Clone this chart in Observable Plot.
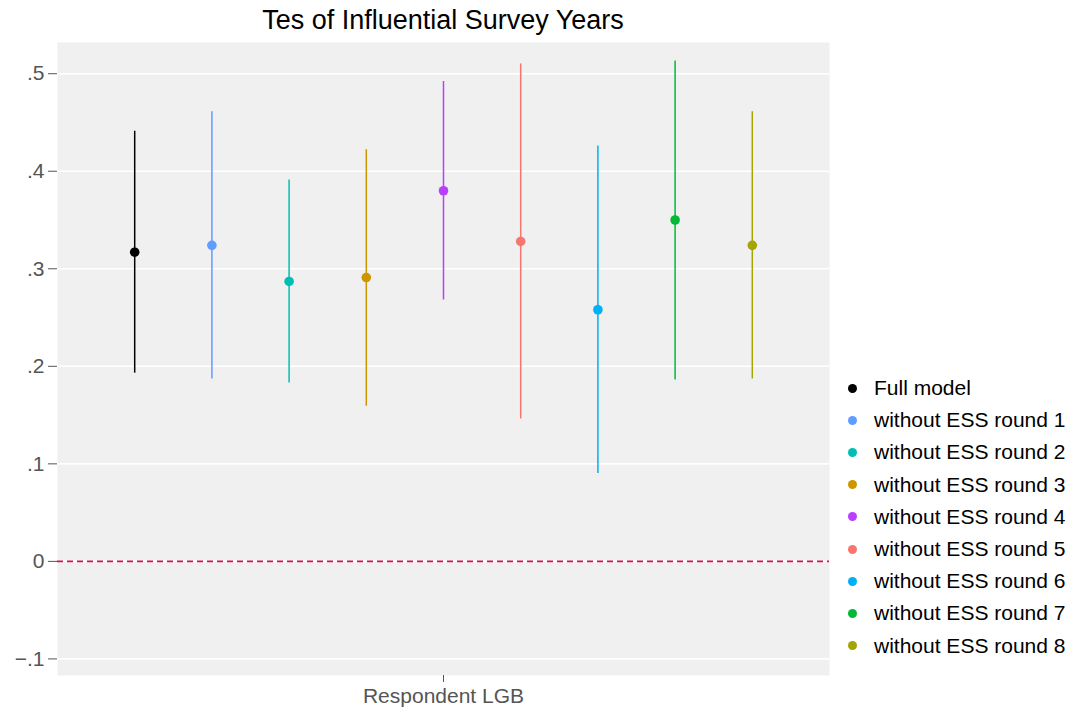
<!DOCTYPE html>
<html>
<head>
<meta charset="utf-8">
<script src="https://cdn.jsdelivr.net/npm/d3@7"></script>
<script src="https://cdn.jsdelivr.net/npm/@observablehq/plot@0.6"></script>
<style>
  html, body { margin: 0; padding: 0; background: #fff; }
  #wrap { position: relative; width: 1074px; height: 716px; font-family: "Liberation Sans", Arial, sans-serif; }
  #title { position: absolute; left: 57px; width: 772px; top: 3px; text-align: center; font-size: 27px; color: #000; line-height: 34px; }
  #legend { position: absolute; left: 848px; top: 372px; font-size: 21px; color: #000; }
  .row { height: 32.2px; display: flex; align-items: center; }
  .sw { width: 9px; height: 9px; border-radius: 50%; margin-right: 17px; }
</style>
</head>
<body>
<div id="wrap">
  <div id="title">Tes of Influential Survey Years</div>
  <div id="legend"></div>
</div>
<script>
const models = ["Full model", "without ESS round 1", "without ESS round 2", "without ESS round 3", "without ESS round 4", "without ESS round 5", "without ESS round 6", "without ESS round 7", "without ESS round 8"];
const estimates = [0.317, 0.324, 0.287, 0.291, 0.380, 0.328, 0.258, 0.350, 0.324];
const lower = [0.193, 0.187, 0.183, 0.159, 0.268, 0.146, 0.090, 0.186, 0.187];
const upper = [0.441, 0.461, 0.391, 0.422, 0.492, 0.510, 0.426, 0.513, 0.461];
const colors = ["#000000", "#619CFF", "#00BFB2", "#CD9600", "#B93FFF", "#F8766D", "#00B0F6", "#00BA38", "#A3A500"];
const offsets = [-4, -3, -2, -1, 0, 1, 2, 3, 4];
const yTicks = [-0.1, 0, 0.1, 0.2, 0.3, 0.4, 0.5];
const xLabel = "Respondent LGB";

const data = models.map((m, i) => ({model: m, est: estimates[i], lo: lower[i], hi: upper[i], x: offsets[i]}));
const fmt = d => d === 0 ? "0" : (d < 0 ? "\u2212" : "") + d3.format(".1f")(Math.abs(d)).replace(/^0/, "");

const chart = Plot.plot({
  width: 1074,
  height: 716,
  marginLeft: 57,
  marginRight: 245,
  marginTop: 42,
  marginBottom: 41,
  style: {fontFamily: "Liberation Sans, Arial, sans-serif", background: "transparent"},
  x: {domain: [-5, 5]},
  y: {domain: [-0.117, 0.532]},
  color: {domain: models, range: colors},
  marks: [
    Plot.frame({fill: "#f0f0f0", stroke: null}),
    Plot.ruleY(yTicks, {stroke: "#ffffff", strokeWidth: 1.6}),
    Plot.ruleY([0], {stroke: "#d0144a", strokeWidth: 1.6, strokeDasharray: "6,4"}),
    Plot.ruleX(data, {x: "x", y1: "lo", y2: "hi", stroke: "model", strokeWidth: 1.5}),
    Plot.dot(data, {x: "x", y: "est", fill: "model", r: 4.8}),
    Plot.axisY({ticks: yTicks, tickFormat: fmt, tickSize: 9, tickPadding: 4, fontSize: 21, color: "#555", stroke: "#555", label: null}),
    Plot.axisX({ticks: [0], tickFormat: () => xLabel, tickSize: 7, tickPadding: 6, fontSize: 21, color: "#555", stroke: "#555", label: null})
  ]
});
chart.style.position = "absolute";
chart.style.left = "0px";
chart.style.top = "0px";
const wrap = document.getElementById("wrap");
wrap.insertBefore(chart, wrap.firstChild);

const legend = document.getElementById("legend");
models.forEach((m, i) => {
  const row = document.createElement("div");
  row.className = "row";
  const sw = document.createElement("span");
  sw.className = "sw";
  sw.style.background = colors[i];
  const t = document.createElement("span");
  t.textContent = m;
  row.appendChild(sw);
  row.appendChild(t);
  legend.appendChild(row);
});
</script>
</body>
</html>
